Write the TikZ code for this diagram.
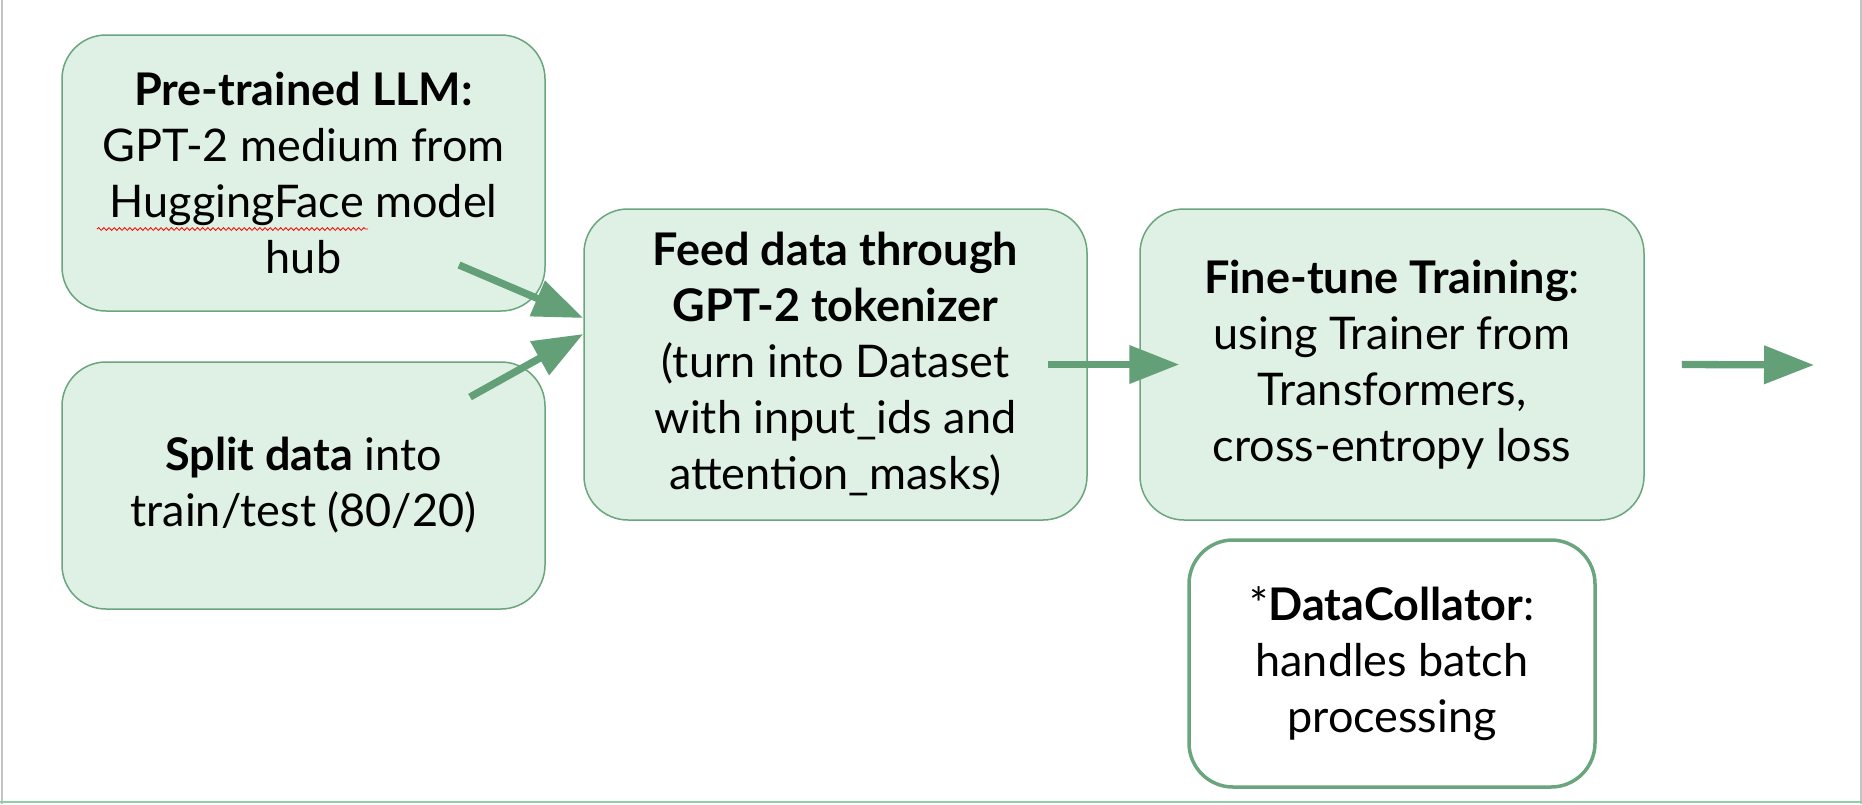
\documentclass[tikz,border=0pt]{standalone}
\usepackage{fontspec}
\setmainfont{Lato}
\usetikzlibrary{arrows.meta,decorations.pathmorphing}
\definecolor{boxfill}{RGB}{222,241,228}
\definecolor{boxline}{RGB}{106,165,126}
\definecolor{arrowgreen}{RGB}{99,160,119}
\definecolor{framegrey}{RGB}{196,196,196}
\definecolor{framegreen}{RGB}{140,208,164}

\begin{document}
\begin{tikzpicture}[x=0.5pt, y=-0.5pt, every node/.style={font=\fontsize{22.5}{28}\selectfont},
    box/.style={draw=boxline, fill=boxfill, line width=0.75pt, rounded corners=22pt, align=center, inner sep=0pt},
    flow/.style={draw=arrowgreen, line width=3.65pt, -{Triangle[length=25pt,width=18.5pt]}}]
    \useasboundingbox (0,0) rectangle (1862,804);

    % Frame
    \draw[framegrey, line width=0.75pt] (2,0) -- (2,804);
    \draw[framegrey, line width=0.75pt] (1861,0) -- (1861,804);
    \draw[framegreen, line width=1pt] (0,802) -- (1862,802);

    % Inputs: model and data
    \node[box, minimum width=241.5pt, minimum height=138pt] (llm) at (303.5,173) {\textbf{Pre-trained LLM:}\\GPT-2 medium from\\HuggingFace model\\hub};
    \draw[red, line width=0.4pt, decorate, decoration={snake, amplitude=0.7pt, segment length=2.6pt}] (97,229) -- (368,229);
    \node[box, minimum width=241.5pt, minimum height=123.5pt] (split) at (303.5,485.5) {\textbf{Split data} into\\train/test (80/20)};

    % Tokenize
    \node[box, minimum width=251.5pt, minimum height=155.5pt] (tokenize) at (835.5,364.5) {\textbf{Feed data through}\\\textbf{GPT-2 tokenizer}\\(turn into Dataset\\with input\_ids and\\attention\_masks)};

    % Training
    \node[box, minimum width=252pt, minimum height=155.5pt] (train) at (1392,364.5) {\textbf{Fine-tune Training}:\\using Trainer from\\Transformers,\\cross-entropy loss};

    % Collator note
    \node[box, fill=white, line width=1.75pt, minimum width=203pt, minimum height=123.5pt] (collator) at (1392,663.5) {*\textbf{DataCollator}:\\handles batch\\processing};

    % Arrows
    \coordinate (llmout) at (459,265);
    \coordinate (splitout) at (470,397);
    \coordinate (out) at (1814,365);
    \draw[flow] (llmout) -- ([yshift=23.25pt]tokenize.west);
    \draw[flow] (splitout) -- ([yshift=15.25pt]tokenize.west);
    \draw[flow] ([xshift=-20pt]tokenize.east) -- ([xshift=20pt]train.west);
    \draw[flow] ([xshift=18.5pt]train.east) -- (out);
\end{tikzpicture}
\end{document}
